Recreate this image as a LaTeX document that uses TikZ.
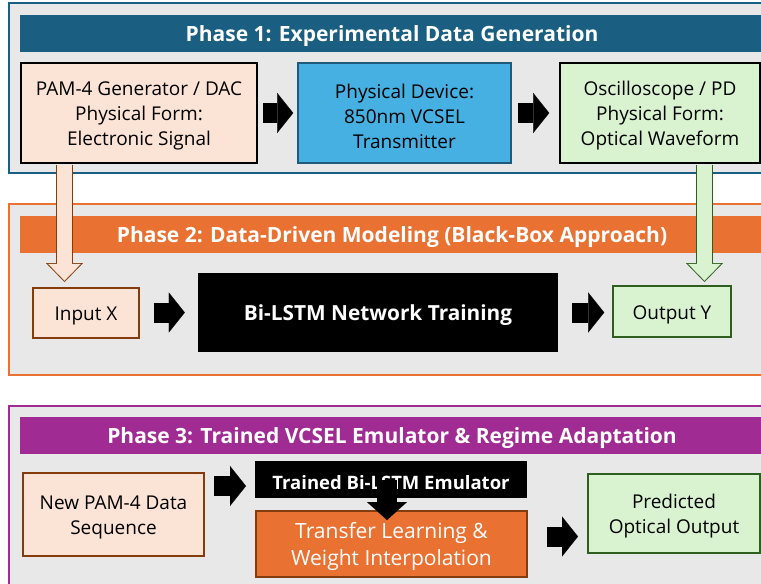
\documentclass[tikz,border=0pt]{standalone}
\usepackage{fontspec}
\setmainfont{Open Sans}
\usepackage{tikz}
\usetikzlibrary{arrows.meta,calc}
\definecolor{panelgray}{HTML}{E8E8E8}
\definecolor{phaseteal}{HTML}{1A5F82}
\definecolor{phaseorange}{HTML}{E97132}
\definecolor{phasepurple}{HTML}{A02B93}
\definecolor{peach}{HTML}{FBE3D6}
\definecolor{peachline}{HTML}{843C0C}
\definecolor{mint}{HTML}{D9F2D0}
\definecolor{mintline}{HTML}{2F5F1E}
\definecolor{vcselblue}{HTML}{45B0E1}
\definecolor{vcselline}{HTML}{1F5A7A}
\newcommand{\topgap}{\rule{0pt}{20.5pt}}

\begin{document}
\begin{tikzpicture}[x=1pt, y=-1pt,
	every node/.style={font=\fontsize{19}{25}\selectfont, align=center, inner sep=0pt, execute at begin node={\topgap}},
	headtext/.style={text=white, font=\fontsize{21}{25}\selectfont\bfseries},
	box/.style={draw, line width=1.6pt},
	blockarrow/.style={black, line width=20pt, -{Triangle[length=16pt, width=40pt, line width=0.1pt]}},
	hollowout/.style={line width=17pt, -{Triangle[length=19pt, width=37pt, line width=0.1pt]}},
	hollowin/.style={line width=15pt, shorten >=1.43pt, -{Triangle[length=16.6pt, width=32.3pt, line width=0.1pt]}}]
	\useasboundingbox (0,0) rectangle (761,584);
	\draw[phaseteal, line width=1.5pt, fill=panelgray] (9,3) rectangle (775,173);
	\fill[phaseteal] (20,15) rectangle (775,52);
	\node[headtext] (title1) at (392,34) {Phase 1: Experimental Data Generation};
	\node[box, fill=peach, minimum width=236pt, minimum height=100pt] (gen) at (139,113) {\topgap PAM-4 Generator / DAC\\Physical Form:\\Electronic Signal};
	\node[box, draw=vcselline, fill=vcselblue, minimum width=213pt, minimum height=100pt] (dev) at (404.5,113) {\topgap Physical Device:\\850nm VCSEL\\Transmitter};
	\node[box, fill=mint, minimum width=200pt, minimum height=100pt] (osc) at (660,113) {\topgap Oscilloscope / PD\\Physical Form:\\Optical Waveform};
	\draw[blockarrow] ([xshift=5pt]gen.east) -- ([xshift=-4pt]dev.west);
	\draw[blockarrow] ([xshift=6pt]dev.east) -- ([xshift=-10pt]osc.west);
	\draw[phaseorange, line width=1.5pt, fill=panelgray] (9,204) rectangle (775,375);
	\fill[phaseorange] (20,216) rectangle (775,253);
	\node[headtext] (title2) at (392,235) {Phase 2: Data-Driven Modeling (Black-Box Approach)};
	\node[box, draw=peachline, fill=peach, minimum width=106pt, minimum height=50pt] (inx) at (86,313) {Input X};
	\node[fill=black, text=white, font=\fontsize{20.8}{25}\selectfont\bfseries, minimum width=360pt, minimum height=79pt] (bilstm) at (378,312.5) {Bi-LSTM Network Training};
	\node[box, draw=mintline, fill=mint, minimum width=118pt, minimum height=51pt] (outy) at (672,311.5) {Output Y};
	\draw[blockarrow] ([xshift=14pt]inx.east |- bilstm.west) -- ([xshift=-13pt]bilstm.west);
	\draw[blockarrow] ([xshift=14pt]bilstm.east) -- ([xshift=-8pt]outy.west |- bilstm.east);
	\coordinate (inArrow) at (64.5,282);
	\coordinate (outArrow) at (704.5,282);
	\draw[peachline, hollowout] ([yshift=-0.8pt]gen.south -| inArrow) -- (inArrow);
	\draw[peach, hollowin] ([yshift=-0.8pt]gen.south -| inArrow) -- (inArrow);
	\draw[mintline, hollowout] ([yshift=-0.8pt]osc.south -| outArrow) -- (outArrow);
	\draw[mint, hollowin] ([yshift=-0.8pt]osc.south -| outArrow) -- (outArrow);
	\draw[phasepurple, line width=1.5pt, fill=panelgray] (9,406) rectangle (775,600);
	\fill[phasepurple] (20,417) rectangle (775,454);
	\node[headtext] (title3) at (392,436) {Phase 3: Trained VCSEL Emulator \& Regime Adaptation};
	\node[box, draw=peachline, fill=peach, minimum width=181pt, minimum height=83pt] (newpam) at (113.5,514.5) {\topgap New PAM-4 Data\\Sequence};
	\node[fill=black, text=white, font=\fontsize{18.5}{22}\selectfont\bfseries, minimum width=272pt, minimum height=37pt] (emu) at (391,479.5) {Trained Bi-LSTM Emulator};
	\node[box, draw=peachline, fill=phaseorange, text=white, font=\fontsize{21}{26.7}\selectfont, minimum width=271pt, minimum height=66pt] (tl) at (391.5,544) {\topgap Transfer Learning \&\\Weight Interpolation};
	\node[box, draw=mintline, fill=mint, minimum width=172pt, minimum height=79pt] (pred) at (674,513.5) {\topgap Predicted\\Optical Output};
	\coordinate (emuIn) at (246,486);
	\coordinate (emuDown) at (387,520);
	\coordinate (predIn) at (578,536.5);
	\draw[blockarrow] ([xshift=9pt]newpam.east |- emuIn) -- (emuIn);
	\draw[blockarrow, -{Triangle[length=18pt, width=40pt, line width=0.1pt]}] (emu.center -| emuDown) -- (emuDown);
	\draw[blockarrow] ([xshift=19pt]tl.east |- predIn) -- (predIn);
\end{tikzpicture}
\end{document}
